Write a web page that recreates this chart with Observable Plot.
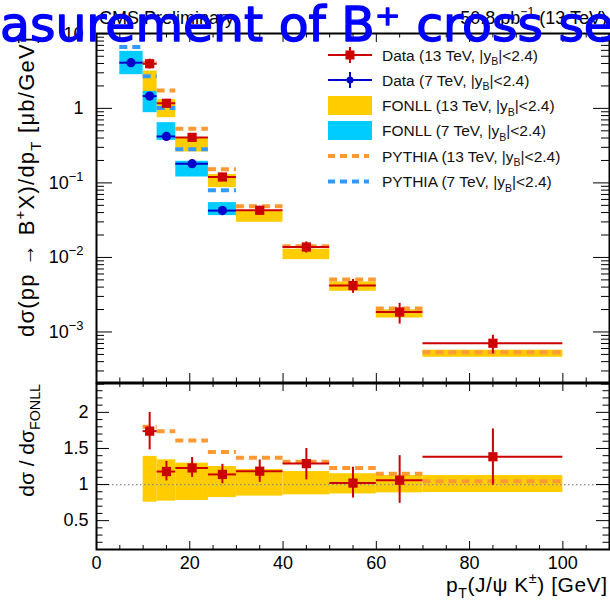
<!DOCTYPE html>
<html><head><meta charset="utf-8">
<script src="https://cdn.jsdelivr.net/npm/d3@7"></script>
<script src="https://cdn.jsdelivr.net/npm/@observablehq/plot@0.6"></script>
<style>
html,body{margin:0;padding:0;background:#fff;}
#wrap{position:relative;width:610px;height:604px;overflow:hidden;font-family:"Liberation Sans",Arial,sans-serif;background:#fff;}
#wrap > svg{position:absolute;left:0;}
</style></head><body><div id="wrap"></div>
<script>
// ---------------- data ----------------
// 13 TeV bins (GeV)
const bins13Lo = [10, 13, 17, 24, 30, 40, 50, 60, 70];
const bins13Hi = [13, 17, 24, 30, 40, 50, 60, 70, 100];
const pt13 = [11.4, 15, 20.5, 27, 35, 45, 55, 65, 85];
const data13 = [3.97, 1.17, 0.408, 0.120, 0.0429, 0.0138, 0.00419, 0.00185, 0.000706];
const relErr13 = [0.15, 0.11, 0.11, 0.12, 0.13, 0.17, 0.21, 0.31, 0.28];
const fonll13Lo = [1.65, 0.75, 0.26, 0.0865, 0.0296, 0.00935, 0.00352, 0.00154, 0.000458];
const fonll13Hi = [3.17, 1.31, 0.405, 0.130, 0.0416, 0.01285, 0.00469, 0.00198, 0.000569];
const pythia13 = [4.10, 1.73, 0.534, 0.153, 0.0485, 0.0141, 0.00505, 0.00206, 0.000534];

// 7 TeV bins
const bins7Lo = [5, 10, 13, 17, 24];
const bins7Hi = [10, 13, 17, 24, 30];
const pt7 = [7.4, 11.4, 15, 20.5, 27];
const data7 = [4.1, 1.46, 0.42, 0.181, 0.0425];
const relErr7 = [0.13, 0.10, 0.10, 0.10, 0.12];
const fonll7Lo = [2.83, 0.875, 0.372, 0.12, 0.0364];
const fonll7Hi = [5.81, 1.69, 0.643, 0.195, 0.0544];
const pythia7 = [6.64, 2.69, 1.01, 0.282, 0.0795];

// ratio panel (13 TeV, relative to FONLL)
const ratio13 = [1.74, 1.18, 1.23, 1.14, 1.185, 1.29, 1.02, 1.06, 1.385];
const ratio13Lo = [1.48, 1.05, 1.10, 1.01, 1.03, 1.065, 0.815, 0.74, 0.99];
const ratio13Hi = [2.00, 1.32, 1.375, 1.28, 1.34, 1.50, 1.24, 1.40, 1.77];
const fonllRatioLo = [0.755, 0.77, 0.78, 0.82, 0.84, 0.857, 0.87, 0.885, 0.89];
const fonllRatioHi = [1.39, 1.343, 1.296, 1.25, 1.21, 1.18, 1.15, 1.125, 1.125];
const pythiaRatio = [1.80, 1.74, 1.61, 1.45, 1.37, 1.315, 1.23, 1.15, 1.045];

// ticks
const xMajor = [0, 20, 40, 60, 80, 100];
const xMinor = [5, 10, 15, 25, 30, 35, 45, 50, 55, 65, 70, 75, 85, 90, 95, 105];
const yLogMajor = [1e-3, 1e-2, 1e-1, 1, 10];
const yLogMinorMant = [2, 3, 4, 5, 6, 7, 8, 9];
const yLogMinorExp = [-4, -3, -2, -1, 0];
const yRatioMajor = [0.5, 1, 1.5, 2];
const yRatioMinor = [0.2, 0.3, 0.4, 0.6, 0.7, 0.8, 0.9, 1.1, 1.2, 1.3, 1.4, 1.6, 1.7, 1.8, 1.9, 2.1, 2.2, 2.3];

// ---------------- build rows ----------------
const rows13 = bins13Lo.map((b, i) => ({x1: b, x2: bins13Hi[i], pt: pt13[i], v: data13[i], e: relErr13[i],
  lo: fonll13Lo[i], hi: fonll13Hi[i], py: pythia13[i],
  r: ratio13[i], rlo: ratio13Lo[i], rhi: ratio13Hi[i], flo: fonllRatioLo[i], fhi: fonllRatioHi[i], pr: pythiaRatio[i]}));
const rows7 = bins7Lo.map((b, i) => ({x1: b, x2: bins7Hi[i], pt: pt7[i], v: data7[i], e: relErr7[i],
  lo: fonll7Lo[i], hi: fonll7Hi[i], py: pythia7[i]}));
const yLogMinor = yLogMinorExp.flatMap(e => yLogMinorMant.map(m => m * Math.pow(10, e)));

const red = "#cc0000", blue = "#0000cc", yellow = "#ffcc00", cyan = "#00ccff", orange = "#ff9933", lblue = "#3399ff";
const W = 610, ML = 96, MR = 1;
const FW = W - ML - MR;
const FONT = '"Liberation Sans", Arial, sans-serif';

function frameTicks(xMaj, xMin, xLenMaj, xLenMin, yMaj, yMin, yLenMaj, yLenMin, FH) {
  const s = {stroke: "black", strokeWidth: 1};
  return [
    Plot.ruleX(xMaj, {x: d => d, insetTop: FH - xLenMaj, ...s}),
    Plot.ruleX(xMin, {x: d => d, insetTop: FH - xLenMin, ...s}),
    Plot.ruleX(xMaj, {x: d => d, insetBottom: FH - xLenMaj, ...s}),
    Plot.ruleX(xMin, {x: d => d, insetBottom: FH - xLenMin, ...s}),
    Plot.ruleY(yMaj, {y: d => d, insetRight: FW - yLenMaj, ...s}),
    Plot.ruleY(yMin, {y: d => d, insetRight: FW - yLenMin, ...s}),
    Plot.ruleY(yMaj, {y: d => d, insetLeft: FW - yLenMaj, ...s}),
    Plot.ruleY(yMin, {y: d => d, insetLeft: FW - yLenMin, ...s})
  ];
}

// ---------------- upper panel ----------------
const UH = 383, UMT = 33, UMB = 1, UFH = UH - UMT - UMB;
const upper = Plot.plot({
  width: W, height: UH, marginLeft: ML, marginRight: MR, marginTop: UMT, marginBottom: UMB,
  style: {fontFamily: FONT, fontSize: "18px", color: "black", background: "transparent", overflow: "visible"},
  x: {domain: [0, 110], axis: null},
  y: {type: "log", domain: [2.1e-4, 10.1]},
  marks: [
    Plot.rect(rows13, {x1: "x1", x2: "x2", y1: "lo", y2: "hi", fill: yellow}),
    Plot.rect(rows7, {x1: "x1", x2: "x2", y1: "lo", y2: "hi", fill: cyan}),
    Plot.ruleY(rows13, {x1: "x1", x2: "x2", y: "py", stroke: orange, strokeWidth: 4, strokeDasharray: "8,5"}),
    Plot.ruleY(rows7, {x1: "x1", x2: "x2", y: "py", stroke: lblue, strokeWidth: 4, strokeDasharray: "8,5"}),
    Plot.ruleY(rows7, {x1: "x1", x2: "x2", y: "v", stroke: blue, strokeWidth: 2}),
    Plot.ruleX(rows7, {x: "pt", y1: d => d.v * (1 - d.e), y2: d => d.v * (1 + d.e), stroke: blue, strokeWidth: 2}),
    Plot.dot(rows7, {x: "pt", y: "v", r: 4.6, fill: blue, stroke: null}),
    Plot.ruleY(rows13, {x1: "x1", x2: "x2", y: "v", stroke: red, strokeWidth: 2}),
    Plot.ruleX(rows13, {x: "pt", y1: d => d.v * (1 - d.e), y2: d => d.v * (1 + d.e), stroke: red, strokeWidth: 2}),
    Plot.dot(rows13, {x: "pt", y: "v", r: 5.2, symbol: "square", fill: red, stroke: null}),
    ...frameTicks(xMajor, xMinor, 9, 4.5, yLogMajor, yLogMinor, 16, 8, UFH),
    Plot.axisY({anchor: "left", ticks: yLogMajor, tickSize: 0, tickPadding: 13, label: null,
      tickFormat: d => d === 1 ? "1" : d === 10 ? "10" : "10^" + Math.round(Math.log10(d))}),
    Plot.frame({stroke: "black", strokeWidth: 2})
  ]
});
upper.style.top = "0px";
document.getElementById("wrap").appendChild(upper);
d3.select(upper).selectAll("text").each(function () {
  const t = this.textContent;
  if (/^10\^/.test(t)) {
    const exp = t.split("^")[1].replace("-", "\u2212");
    this.textContent = "10";
    d3.select(this).append("tspan").attr("dy", -8).attr("font-size", 13).text(exp);
  }
});

// ---------------- lower panel ----------------
const LTOP = 382, LH = 222, LMT = 1, LMB = 55, LFH = LH - LMT - LMB;
const lower = Plot.plot({
  width: W, height: LH, marginLeft: ML, marginRight: MR, marginTop: LMT, marginBottom: LMB,
  style: {fontFamily: FONT, fontSize: "18px", color: "black", background: "transparent", overflow: "visible"},
  x: {domain: [0, 110]},
  y: {domain: [0.1, 2.4]},
  marks: [
    Plot.rect(rows13, {x1: "x1", x2: "x2", y1: "flo", y2: "fhi", fill: yellow}),
    Plot.ruleY([1], {stroke: "#8c8c8c", strokeWidth: 1.3, strokeDasharray: "1.5,2.5"}),
    Plot.ruleY(rows13, {x1: "x1", x2: "x2", y: "pr", stroke: orange, strokeWidth: 4, strokeDasharray: "8,5"}),
    Plot.ruleY(rows13, {x1: "x1", x2: "x2", y: "r", stroke: red, strokeWidth: 2}),
    Plot.ruleX(rows13, {x: "pt", y1: "rlo", y2: "rhi", stroke: red, strokeWidth: 2}),
    Plot.dot(rows13, {x: "pt", y: "r", r: 5.2, symbol: "square", fill: red, stroke: null}),
    ...frameTicks(xMajor, xMinor, 8, 4, yRatioMajor, yRatioMinor, 13, 6.5, LFH),
    Plot.axisY({anchor: "left", ticks: yRatioMajor, tickSize: 0, tickPadding: 8, label: null, tickFormat: d => String(d)}),
    Plot.axisX({anchor: "bottom", ticks: xMajor, tickSize: 0, tickPadding: 7, label: null, tickFormat: d => String(d)}),
    Plot.frame({stroke: "black", strokeWidth: 2})
  ]
});
lower.style.top = LTOP + "px";
document.getElementById("wrap").appendChild(lower);

// ---------------- overlay: titles, legend ----------------
const ov = d3.select("#wrap").append("svg").attr("width", W).attr("height", 604)
  .style("top", "0px").style("font-family", FONT);

function rich(sel, parts, fs) {
  let shift = 0;
  for (const [t, k] of parts) {
    const target = k === "sup" ? -0.42 * fs : k === "sub" ? 0.3 * fs : 0;
    const ts = sel.append("tspan").attr("dy", target - shift).text(t);
    if (k) ts.attr("font-size", 0.68 * fs);
    shift = target;
  }
  return sel;
}

// axis titles
rich(ov.append("text").attr("transform", "translate(34,37) rotate(-90)").attr("text-anchor", "end")
  .attr("font-size", 22).attr("fill", "black").attr("textLength", 300).attr("lengthAdjust", "spacing"),
  [["d\u03c3(pp \u2192 B"], ["+", "sup"], ["X)/dp"], ["T", "sub"], [" [\u03bcb/GeV]"]], 22);
rich(ov.append("text").attr("transform", "translate(34,384) rotate(-90)").attr("text-anchor", "end")
  .attr("font-size", 21).attr("fill", "black"),
  [["d\u03c3 / d\u03c3"], ["FONLL", "sub"]], 21);
rich(ov.append("text").attr("x", 607).attr("y", 592).attr("text-anchor", "end")
  .attr("font-size", 21).attr("fill", "black").attr("textLength", 161).attr("lengthAdjust", "spacing"),
  [["p"], ["T", "sub"], ["(J/\u03c8 K"], ["\u00b1", "sup"], [") [GeV]"]], 21);

// CMS labels
ov.append("text").attr("x", 99).attr("y", 24).attr("font-size", 18).text("CMS Preliminary");
rich(ov.append("text").attr("x", 607).attr("y", 24).attr("text-anchor", "end").attr("font-size", 18),
  [["50.8 pb"], ["\u22121", "sup"], [" (13 TeV)"]], 18);

// legend
const lg = ov.append("g");
const LX1 = 328, LX2 = 372, TX = 382;
const legendRows = [55, 80, 105.5, 130.5, 156, 181.5];
// data 13
lg.append("line").attr("x1", LX1).attr("x2", LX2).attr("y1", legendRows[0]).attr("y2", legendRows[0]).attr("stroke", red).attr("stroke-width", 2);
lg.append("line").attr("x1", 350).attr("x2", 350).attr("y1", legendRows[0] - 8).attr("y2", legendRows[0] + 8).attr("stroke", red).attr("stroke-width", 2);
lg.append("rect").attr("x", 345.5).attr("y", legendRows[0] - 4.5).attr("width", 9).attr("height", 9).attr("fill", red);
// data 7
lg.append("line").attr("x1", LX1).attr("x2", LX2).attr("y1", legendRows[1]).attr("y2", legendRows[1]).attr("stroke", blue).attr("stroke-width", 2);
lg.append("line").attr("x1", 350).attr("x2", 350).attr("y1", legendRows[1] - 8).attr("y2", legendRows[1] + 8).attr("stroke", blue).attr("stroke-width", 2);
lg.append("circle").attr("cx", 350).attr("cy", legendRows[1]).attr("r", 3.5).attr("fill", blue);
// fonll boxes
lg.append("rect").attr("x", LX1).attr("y", legendRows[2] - 9.5).attr("width", LX2 - LX1).attr("height", 19).attr("fill", yellow);
lg.append("rect").attr("x", LX1).attr("y", legendRows[3] - 9.5).attr("width", LX2 - LX1).attr("height", 19).attr("fill", cyan);
// pythia dashes
lg.append("line").attr("x1", LX1).attr("x2", 369).attr("y1", legendRows[4]).attr("y2", legendRows[4]).attr("stroke", orange).attr("stroke-width", 4).attr("stroke-dasharray", "7,5");
lg.append("line").attr("x1", LX1).attr("x2", 369).attr("y1", legendRows[5]).attr("y2", legendRows[5]).attr("stroke", lblue).attr("stroke-width", 4).attr("stroke-dasharray", "7,5");
const legendLabels = ["Data (13 TeV, |y", "Data (7 TeV, |y", "FONLL (13 TeV, |y", "FONLL (7 TeV, |y", "PYTHIA (13 TeV, |y", "PYTHIA (7 TeV, |y"];
legendLabels.forEach((lab, i) => {
  rich(lg.append("text").attr("x", TX).attr("y", legendRows[i] + 5.7).attr("font-size", 15.5).attr("fill", "#111"),
    [[lab], ["B", "sub"], ["|<2.4)"]], 15.5);
});

// big overlaid title
const tt = ov.append("text").attr("y", 41).attr("font-family", '"DejaVu Sans", sans-serif')
  .attr("font-size", 44).attr("fill", "#0000ff").attr("stroke", "#0000ff").attr("stroke-width", 1.4)
  .attr("stroke-linejoin", "round").text("Measurement of B\u207a cross section");
const node = tt.node();
const wPre = node.getSubStringLength(0, 2);
const wVis = node.getSubStringLength(2, 24);
const s = 614 / wVis;
tt.attr("font-size", 44 * s).attr("x", -wPre * s);
</script></body></html>
